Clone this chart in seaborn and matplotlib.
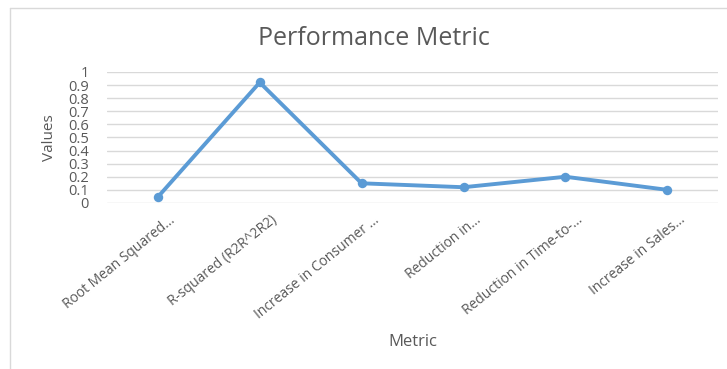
import matplotlib
matplotlib.use("Agg")
import matplotlib.pyplot as plt
import matplotlib.transforms as mtransforms
import seaborn as sns
import pandas as pd
from matplotlib.lines import Line2D

metrics = ["Root Mean Squared...", "R-squared (R2R^2R2)", "Increase in Consumer ...",
           "Reduction in...", "Reduction in Time-to-...", "Increase in Sales..."]
values = [0.045, 0.92, 0.15, 0.12, 0.20, 0.10]
yticks = [0, 0.1, 0.2, 0.3, 0.4, 0.5, 0.6, 0.7, 0.8, 0.9, 1]
ytick_labels = ["0", "0.1", "0.2", "0.3", "0.4", "0.5", "0.6", "0.7", "0.8", "0.9", "1"]

sns.set_theme(style="white")
plt.rcParams['font.family'] = ['Open Sans', 'DejaVu Sans']

df = pd.DataFrame({"Metric": metrics, "Values": values})

fig = plt.figure(figsize=(7.27, 3.69), dpi=100)
ax = fig.add_axes([0.147, 0.450, 0.841, 0.355])

sns.lineplot(data=df, x="Metric", y="Values", sort=False, ax=ax, color="#5B9BD5",
             linewidth=2.8, marker="o", markersize=6.8, markeredgewidth=0, zorder=3)

ax.set_ylim(0, 1)
ax.set_xlim(-0.5, len(metrics) - 0.5)
ax.set_yticks(yticks)
ax.set_yticklabels(ytick_labels)
ax.yaxis.grid(True, color="#D9D9D9", linewidth=1)
ax.xaxis.grid(False)
for s in ax.spines.values():
    s.set_visible(False)
ax.tick_params(axis="y", length=0, labelsize=10.5, labelcolor="#595959", pad=13)
ax.tick_params(axis="x", length=0, labelsize=10, labelcolor="#595959", pad=7)
ax.set_xticks(range(len(metrics)))
ax.set_xticklabels(metrics, rotation=39, ha="right", rotation_mode="anchor")
offset = mtransforms.ScaledTranslation(11 / 100, 0, fig.dpi_scale_trans)
for lbl in ax.get_xticklabels():
    lbl.set_transform(lbl.get_transform() + offset)

ax.set_xlabel("Metric", fontsize=12, color="#595959")
ax.set_ylabel("Values", fontsize=11, color="#595959", labelpad=8)
ax.xaxis.set_label_coords(0.5, -1.0)

fig.text(0.515, 0.895, "Performance Metric", ha="center", va="center",
         fontsize=18, color="#595959")

# chart-area border (left and top edges visible)
fig.add_artist(Line2D([10 / 727, 10 / 727], [0, 1 - 8 / 369], transform=fig.transFigure,
                      color="#D9D9D9", linewidth=1))
fig.add_artist(Line2D([10 / 727, 1], [1 - 8 / 369, 1 - 8 / 369], transform=fig.transFigure,
                      color="#D9D9D9", linewidth=1))

fig.savefig("out.png", dpi=100)
